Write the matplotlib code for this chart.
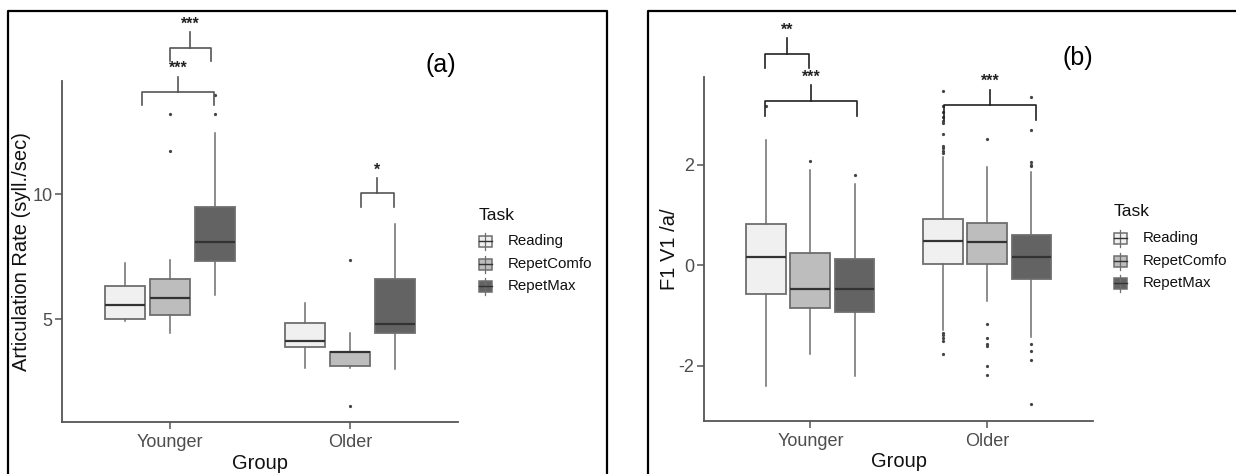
import numpy as np
import matplotlib
matplotlib.use("Agg")
import matplotlib.pyplot as plt
from matplotlib.patches import Rectangle

plt.rcParams["font.family"] = ["Liberation Sans", "DejaVu Sans"]

W, H = 1236, 474

# ── Data ──
groups = ["Younger", "Older"]
tasks = ["Reading", "RepetComfo", "RepetMax"]
fills = ["#F0F0F0", "#BDBDBD", "#636363"]

# (a) articulation rate: whislo, q1, median, q3, whishi per group/task
rate_stats = {
    "Younger": [(4.92, 5.00, 5.56, 6.32, 7.25),
                (4.45, 5.15, 5.83, 6.59, 7.37),
                (5.96, 7.34, 8.10, 9.50, 12.45)],
    "Older":   [(3.02, 3.87, 4.12, 4.84, 5.63),
                (3.02, 3.12, 3.66, 3.69, 4.43),
                (3.00, 4.43, 4.80, 6.59, 8.81)],
}
rate_fliers = {
    "Younger": [[], [11.75, 13.21], [13.21, 13.98]],
    "Older":   [[], [7.37, 1.51], []],
}

# (b) F1 V1 /a/
f1_stats = {
    "Younger": [(-2.40, -0.57, 0.16, 0.83, 2.50),
                (-1.76, -0.85, -0.47, 0.245, 1.90),
                (-2.20, -0.94, -0.47, 0.125, 1.62)],
    "Older":   [(-1.29, 0.03, 0.48, 0.92, 2.16),
                (-0.71, 0.03, 0.46, 0.85, 1.96),
                (-1.44, -0.27, 0.17, 0.60, 1.85)],
}
f1_fliers = {
    "Younger": [[3.17], [2.08], [1.80]],
    "Older":   [[3.47, 3.17, 3.05, 2.95, 2.88, 2.83, 2.62, 2.38, 2.33, 2.28, 2.24,
                 -1.36, -1.40, -1.45, -1.52, -1.77],
                [2.51, -1.17, -1.46, -1.57, -1.62, -2.01, -2.18],
                [3.35, 2.69, 2.05, 2.00, 1.97, -1.57, -1.72, -1.88, -2.77]],
}

# significance brackets: (x_left, x_right, y_bar, y_leg, label)
rate_brackets = [(0.841, 1.246, 14.11, 13.58, "***"),
                 (0.998, 1.224, 15.89, 15.36, "***"),
                 (2.061, 2.242, 10.04, 9.50, "*")]
f1_brackets = [(0.745, 0.994, 4.22, 3.93, "**"),
               (0.745, 1.264, 3.28, 2.97, "***"),
               (1.758, 2.277, 3.19, 2.90, "***")]

AX_GREY = "#555555"


def px_axes(left, top, right, bottom):
    return [left / W, 1 - bottom / H, (right - left) / W, (bottom - top) / H]


def draw_panel(ax, stats, fliers, brackets, ylim, yticks, ylabel, ylab_x, br_color):
    offsets = [-0.25, 0.0, 0.25]
    for gi, g in enumerate(groups):
        for ti in range(3):
            lo, q1, med, q3, hi = stats[g][ti]
            st = [dict(whislo=lo, q1=q1, med=med, q3=q3, whishi=hi, fliers=fliers[g][ti])]
            ax.bxp(st, positions=[gi + 1 + offsets[ti]], widths=0.225,
                   patch_artist=True, showcaps=False,
                   boxprops=dict(facecolor=fills[ti], edgecolor="#6e6e6e", linewidth=1.3),
                   medianprops=dict(color="#333333", linewidth=1.6),
                   whiskerprops=dict(color="#6e6e6e", linewidth=1.1),
                   flierprops=dict(marker="o", markersize=1.3, markerfacecolor="#444444",
                                   markeredgecolor="#444444"),
                   manage_ticks=False)
    span = ylim[1] - ylim[0]
    for xl, xr, yb, yl, lab in brackets:
        xc = (xl + xr) / 2
        ax.plot([xl, xl, xr, xr], [yl, yb, yb, yl], color=br_color, lw=1.2, clip_on=False)
        ax.plot([xc, xc], [yb, yb + span * 0.045], color=br_color, lw=1.2, clip_on=False)
        ax.text(xc, yb + span * 0.047, lab, ha="center", va="bottom", fontsize=11.5,
                fontweight="bold", color="#222222", clip_on=False)
    ax.set_xlim(0.4, 2.6)
    ax.set_ylim(*ylim)
    ax.set_xticks([1, 2])
    ax.set_xticklabels(groups)
    ax.set_yticks(yticks)
    ax.set_yticklabels([str(t) for t in yticks])
    for s in ["top", "right"]:
        ax.spines[s].set_visible(False)
    for s in ["left", "bottom"]:
        ax.spines[s].set_color(AX_GREY)
        ax.spines[s].set_linewidth(1.3)
    ax.tick_params(colors=AX_GREY, labelcolor="#4D4D4D", labelsize=13, length=5, width=1.1)
    ax.tick_params(axis="y", pad=2)
    ax.set_xlabel("Group", fontsize=14.5, color="#111111", labelpad=2)
    ax.set_ylabel(ylabel, fontsize=14.5, color="#111111", va="center")
    ax.yaxis.set_label_coords(ylab_x, 0.5)
    ax.patch.set_alpha(0)


fig = plt.figure(figsize=(W / 100, H / 100), dpi=100)

ax1 = fig.add_axes(px_axes(62.3, 80.7, 458, 422.3))
draw_panel(ax1, rate_stats, rate_fliers, rate_brackets, (0.86, 14.56), [5, 10],
           "Articulation Rate (syll./sec)", (22 - 62.3) / (458 - 62.3), "#555555")

ax2 = fig.add_axes(px_axes(704.3, 76.7, 1093.3, 420.7))
draw_panel(ax2, f1_stats, f1_fliers, f1_brackets, (-3.10, 3.76), [-2, 0, 2],
           "F1 V1 /a/", (669 - 704.3) / (1093.3 - 704.3), "#222222")

# overlay in pixel coordinates for frames, panel tags and legends
ov = fig.add_axes([0, 0, 1, 1], zorder=-1)
ov.set_xlim(0, W)
ov.set_ylim(H, 0)
ov.axis("off")

ov.plot([8, 8, 607, 607], [480, 10.7, 10.7, 480], color="black", lw=1.6, clip_on=False)
ov.plot([648.3, 648.3, 1240], [480, 10.7, 10.7], color="black", lw=1.6, clip_on=False)

ov.text(440.7, 65, "(a)", fontsize=18, ha="center", va="center")
ov.text(1078, 58, "(b)", fontsize=18, ha="center", va="center")


def draw_legend(x0, title_y, rows_y, label_x):
    ov.text(x0, title_y, "Task", fontsize=12.5, ha="left", va="center", color="#111111")
    for ti, ky in enumerate(rows_y):
        kx = x0 + 6
        ov.plot([kx, kx], [ky - 8.5, ky + 8.5], color="#6e6e6e", lw=0.9)
        ov.add_patch(Rectangle((kx - 6.5, ky - 5.5), 13, 11, facecolor=fills[ti],
                               edgecolor="#6e6e6e", lw=1.1))
        ov.plot([kx - 6.5, kx + 6.5], [ky, ky], color="#333333", lw=1.0)
        ov.text(label_x, ky, tasks[ti], fontsize=10.8, ha="left", va="center", color="#111111")


draw_legend(479, 215, [241, 264, 286], 508)
draw_legend(1114, 212, [238, 261, 283], 1143)

fig.savefig("out.png", dpi=100)
